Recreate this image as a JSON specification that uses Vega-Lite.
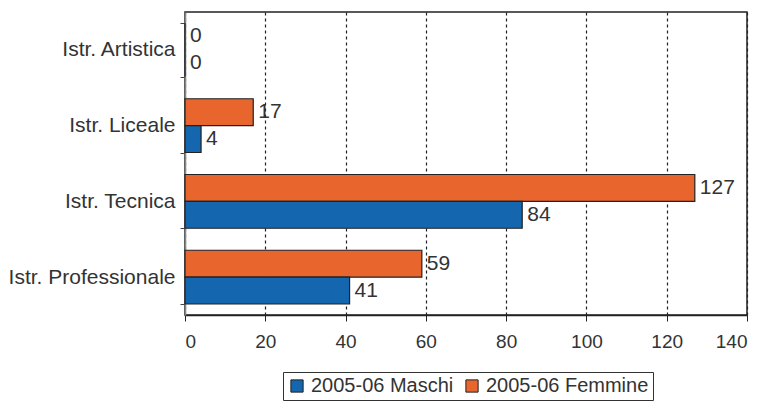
{
  "$schema": "https://vega.github.io/schema/vega-lite/v6.json",
  "autosize": {"type": "none"},
  "width": 562,
  "height": 303,
  "padding": {"left": 185, "top": 12, "right": 21, "bottom": 93},
  "background": "white",
  "config": {
    "font": "Liberation Sans",
    "view": {"stroke": "#222", "strokeWidth": 1.5},
    "axis": {"labelColor": "#333", "labelFont": "Liberation Sans"},
    "legend": {"labelFont": "Liberation Sans"},
    "text": {"font": "Liberation Sans"}
  },
  "data": {
    "values": [
      {"categoria": "Istr. Artistica", "serie": "2005-06 Femmine", "valore": 0},
      {"categoria": "Istr. Artistica", "serie": "2005-06 Maschi", "valore": 0},
      {"categoria": "Istr. Liceale", "serie": "2005-06 Femmine", "valore": 17},
      {"categoria": "Istr. Liceale", "serie": "2005-06 Maschi", "valore": 4},
      {"categoria": "Istr. Tecnica", "serie": "2005-06 Femmine", "valore": 127},
      {"categoria": "Istr. Tecnica", "serie": "2005-06 Maschi", "valore": 84},
      {"categoria": "Istr. Professionale", "serie": "2005-06 Femmine", "valore": 59},
      {"categoria": "Istr. Professionale", "serie": "2005-06 Maschi", "valore": 41}
    ]
  },
  "encoding": {
    "y": {
      "field": "categoria",
      "type": "nominal",
      "sort": ["Istr. Artistica", "Istr. Liceale", "Istr. Tecnica", "Istr. Professionale"],
      "scale": {"paddingInner": 0.29, "paddingOuter": 0.145},
      "axis": {
        "title": null,
        "labelFontSize": 21,
        "labelPadding": 5,
        "labelLimit": 300,
        "tickBand": "extent",
        "tickSize": 5,
        "tickColor": "#444",
        "domainColor": "#888",
        "domainWidth": 1.5,
        "grid": false
      }
    },
    "yOffset": {
      "field": "serie",
      "type": "nominal",
      "sort": ["2005-06 Femmine", "2005-06 Maschi"],
      "scale": {"paddingInner": 0, "paddingOuter": 0}
    },
    "x": {
      "field": "valore",
      "type": "quantitative",
      "scale": {"domain": [0, 140], "nice": false},
      "axis": {
        "title": null,
        "values": [0, 20, 40, 60, 80, 100, 120, 140],
        "labelFontSize": 19,
        "labelPadding": 11,
        "tickSize": 6,
        "tickColor": "#222",
        "domainColor": "#222",
        "domainWidth": 1.5,
        "grid": true,
        "gridColor": "#222",
        "gridDash": [3, 3],
        "gridWidth": 1.2
      }
    }
  },
  "layer": [
    {
      "mark": {"type": "bar", "stroke": "#222", "strokeWidth": 1.2},
      "encoding": {
        "color": {
          "field": "serie",
          "type": "nominal",
          "scale": {"domain": ["2005-06 Maschi", "2005-06 Femmine"], "range": ["#1466ae", "#e8652e"]},
          "legend": {
            "title": null,
            "orient": "none",
            "legendX": 98,
            "legendY": 360,
            "direction": "horizontal",
            "symbolType": "square",
            "symbolSize": 150,
            "symbolStrokeColor": "#222",
            "symbolStrokeWidth": 1,
            "labelFontSize": 20,
            "labelColor": "#333",
            "columnPadding": 8,
            "padding": 4,
            "strokeColor": "#333",
            "labelLimit": 300
          }
        }
      }
    },
    {
      "mark": {"type": "text", "align": "left", "baseline": "middle", "dx": 5, "fontSize": 21, "color": "#333"},
      "encoding": {"text": {"field": "valore", "type": "quantitative"}}
    }
  ]
}
